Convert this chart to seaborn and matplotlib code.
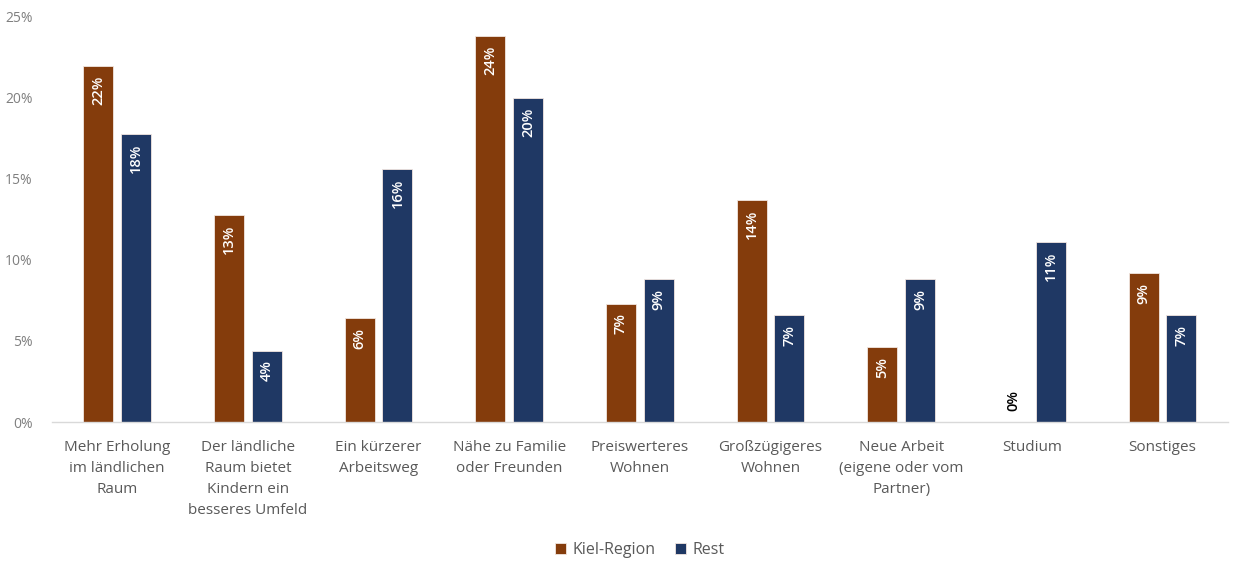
import matplotlib
matplotlib.use("Agg")
import matplotlib.pyplot as plt
import seaborn as sns
import pandas as pd

categories = [
    "Mehr Erholung\nim ländlichen\nRaum",
    "Der ländliche\nRaum bietet\nKindern ein\nbesseres Umfeld",
    "Ein kürzerer\nArbeitsweg",
    "Nähe zu Familie\noder Freunden",
    "Preiswerteres\nWohnen",
    "Großzügigeres\nWohnen",
    "Neue Arbeit\n(eigene oder vom\nPartner)",
    "Studium",
    "Sonstiges",
]
series_names = ["Kiel-Region", "Rest"]
kiel_values = [22.0, 12.8, 6.4, 23.8, 7.3, 13.7, 4.6, 0.0, 9.2]
rest_values = [17.8, 4.4, 15.6, 20.0, 8.8, 6.6, 8.8, 11.1, 6.6]
y_ticks = [0, 5, 10, 15, 20, 25]
colors = ["#843C0C", "#1F3864"]

df = pd.DataFrame({
    "Kategorie": categories * 2,
    "Gruppe": [series_names[0]] * len(categories) + [series_names[1]] * len(categories),
    "Anteil": kiel_values + rest_values,
})

sns.set_theme(style="white")
plt.rcParams["font.family"] = ["Open Sans", "DejaVu Sans"]

fig = plt.figure(figsize=(12.34, 5.63), dpi=100)
ax = fig.add_axes([0.042, 0.2504, 0.953, 0.7196])

sns.barplot(data=df, x="Kategorie", y="Anteil", hue="Gruppe",
            palette=colors, saturation=1, width=0.58, gap=0.21, ax=ax,
            edgecolor="#F2E6E0", linewidth=0.6, legend=True)

# value labels, rotated inside the top of each bar
for container in ax.containers:
    for bar in container:
        h = bar.get_height()
        xc = bar.get_x() + bar.get_width() / 2
        txt = f"{round(h):d}%"
        if h > 0:
            ax.annotate(txt, (xc, h), xytext=(0, -7), textcoords="offset points",
                        rotation=90, ha="center", va="top", color="white",
                        fontsize=10.5, fontweight="semibold")
        else:
            ax.annotate(txt, (xc, 0), xytext=(0, 8), textcoords="offset points",
                        rotation=90, ha="center", va="bottom", color="black",
                        fontsize=10.5, fontweight="semibold")

ax.set_ylim(0, 25)
ax.set_yticks(y_ticks)
ax.set_yticklabels([f"{t}%" for t in y_ticks], color="#7F7F7F", fontsize=10)
ax.set_xlim(-0.5, len(categories) - 0.5)
ax.tick_params(axis="x", colors="#595959", labelsize=11, length=0, pad=13)
ax.tick_params(axis="y", length=0, pad=14)
for lbl in ax.get_xticklabels():
    lbl.set_linespacing(1.55)
ax.set_xlabel("")
ax.set_ylabel("")
for s in ["top", "right", "left"]:
    ax.spines[s].set_visible(False)
ax.spines["bottom"].set_color("#D9D9D9")
ax.spines["bottom"].set_linewidth(1.0)
ax.grid(False)

leg = ax.legend(loc="center", bbox_to_anchor=(0.5, -0.316), ncol=2,
                frameon=False, fontsize=11.5, handlelength=0.7, handleheight=0.7,
                handletextpad=0.4, columnspacing=1.2)
for t in leg.get_texts():
    t.set_color("#595959")

fig.savefig("out.png", dpi=100)
